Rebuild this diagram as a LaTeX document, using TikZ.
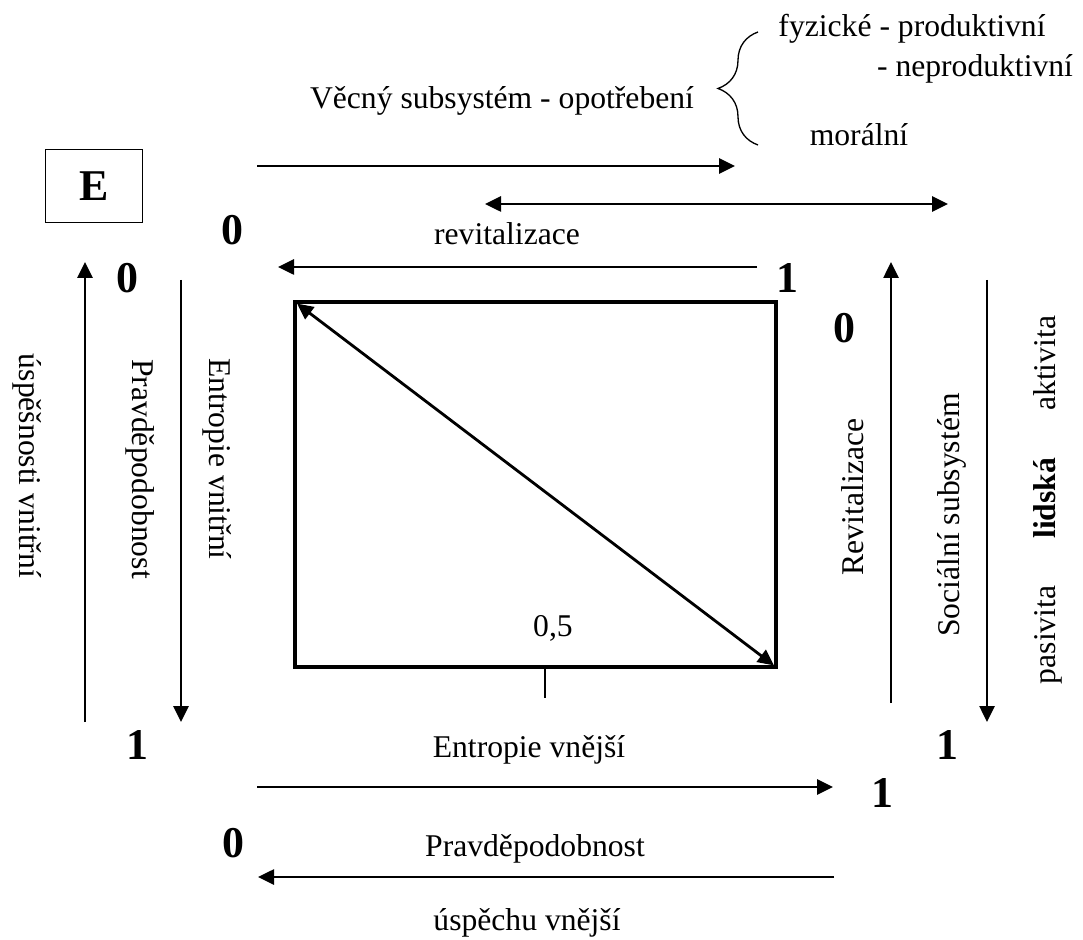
\documentclass[tikz,border=0pt]{standalone}
\usepackage{fontspec}
\setmainfont{Liberation Serif}
\usetikzlibrary{arrows.meta, decorations.pathreplacing}

\tikzset{
    txt/.style={font=\fontsize{18}{21.6}\selectfont, inner sep=0pt},
    num/.style={font=\fontsize{25}{30}\selectfont\bfseries, inner sep=0pt},
    arr/.style={line width=1.5pt, -{Triangle[length=3.2mm, width=3mm]}},
    darr/.style={line width=1.5pt, {Triangle[length=3.2mm, width=3mm]}-{Triangle[length=3.2mm, width=3mm]}},
}

\begin{document}
\begin{tikzpicture}[x=0.2mm, y=0.2mm]
        \useasboundingbox (0,0) rectangle (1083,-940);

        \node[draw, line width=0.75pt, minimum width=19.4mm, minimum height=14.6mm, inner sep=0pt, font=\fontsize{25}{30}\selectfont\bfseries] (boxE) at (94,-186) {E};

        \node[txt, anchor=base] (vecny) at (502,-109) {Věcný subsystém - opotřebení};
        \node[txt, anchor=base] (fyz) at (912,-37) {fyzické - produktivní};
        \node[txt, anchor=base] (neprod) at (975,-77) {- neproduktivní};
        \node[txt, anchor=base] (moral) at (859,-146) {morální};
        \draw[line width=0.75pt, decorate, decoration={brace, amplitude=8mm}] (758,-145) -- (758,-32);

        \coordinate (a1s) at (257,-166);
        \coordinate (a1e) at (735,-166);
        \draw[arr] (a1s) -- (a1e);
        \coordinate (a2s) at (485,-204);
        \coordinate (a2e) at (948,-204);
        \draw[darr] (a2s) -- (a2e);

        \node[num] (n0a) at (232,-230) {0};
        \node[txt, anchor=base] (revmal) at (507,-245) {revitalizace};
        \coordinate (a3s) at (757,-267);
        \coordinate (a3e) at (278,-267);
        \draw[arr] (a3s) -- (a3e);
        \node[num] (n1a) at (787,-278) {1};
        \node[num] (n0b) at (127,-278) {0};
        \node[num] (n0c) at (844,-328) {0};

        % left side
        \coordinate (lus) at (85,-722);
        \coordinate (lue) at (85,-262);
        \draw[arr] (lus) -- (lue);
        \node[txt, rotate=-90] (uspvn) at (27,-466) {úspěšnosti vnitřní};
        \node[txt, rotate=-90] (pravvn) at (140,-469) {Pravděpodobnost};
        \node[txt, rotate=-90] (entvn) at (217,-459) {Entropie vnitřní};
        \coordinate (ev1) at (181,-280);
        \coordinate (ev2) at (181,-300);
        \coordinate (ev3) at (181,-627);
        \coordinate (ev4) at (181,-722);
        \draw[line width=1.5pt] (ev1) -- (ev2);
        \draw[line width=0.6pt] (ev2) -- (ev3);
        \draw[arr] (ev3) -- (ev4);

        % pole
        \node[draw, line width=2.2pt, minimum width=96.2mm, minimum height=73mm, inner sep=0pt, outer sep=0pt] (pole) at (535.5,-484.5) {};
        \draw[darr, line width=1.6pt, shorten <=1.5pt, shorten >=1.5pt] (pole.north west) -- (pole.south east);
        \node[txt] (pul) at (553,-628) {0,5};
        \draw[line width=0.75pt] (545,-665) -- (545,-698);

        % right side
        \coordinate (rvs) at (891,-703);
        \coordinate (rve) at (891,-262);
        \draw[arr] (rvs) -- (rve);
        \node[txt, rotate=90] (revit) at (853,-497) {Revitalizace};
        \node[txt, rotate=90] (soc) at (952,-515) {Sociální subsystém};
        \node[txt, rotate=90] (lid) at (1048,-500) {pasivita\hspace{9.4mm}\textbf{lidská}\hspace{9.4mm}aktivita};
        \coordinate (sss) at (987,-280);
        \coordinate (sse) at (987,-722);
        \draw[arr] (sss) -- (sse);

        % bottom
        \node[num] (n1b) at (137,-745) {1};
        \node[num] (n1c) at (947,-745) {1};
        \node[txt, anchor=base] (entvne) at (529,-757) {Entropie vnější};
        \coordinate (b1s) at (257,-787);
        \coordinate (b1e) at (833,-787);
        \draw[arr] (b1s) -- (b1e);
        \node[num] (n1d) at (882,-793) {1};
        \node[num] (n0d) at (233,-843) {0};
        \node[txt, anchor=base] (pravvne) at (535,-856) {Pravděpodobnost};
        \coordinate (b2s) at (834,-877);
        \coordinate (b2e) at (258,-877);
        \draw[arr] (b2s) -- (b2e);
        \node[txt, anchor=base] (uspvne) at (527,-930) {úspěchu vnější};
    \end{tikzpicture}
\end{document}
